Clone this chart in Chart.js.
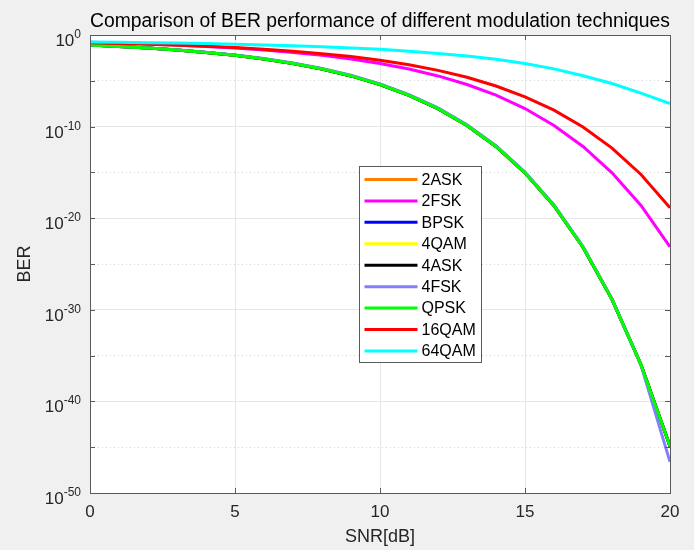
<!DOCTYPE html>
<html><head><meta charset="utf-8">
<script src="https://cdn.jsdelivr.net/npm/chart.js@4.4.0/dist/chart.umd.min.js"></script>
<style>html,body{margin:0;padding:0;background:#f0f0f0;}#wrap{width:694px;height:550px;}</style>
</head><body><div id="wrap"><canvas id="c" width="694" height="550"></canvas></div>
<script>
// SNR in dB
const snr = [0,1,2,3,4,5,6,7,8,9,10,11,12,13,14,15,16,17,18,19,20];
// BER values
const ber2ASK  = [7.9e-2,5.6e-2,3.75e-2,2.3e-2,1.25e-2,6.0e-3,2.4e-3,7.7e-4,1.9e-4,3.4e-5,3.9e-6,2.6e-7,9.0e-9,1.3e-10,6.8e-13,9.1e-16,2.3e-19,6.8e-24,1.4e-29,1.0e-36,1.3e-45];
const ber2FSK  = [0.159,0.131,0.104,0.0789,0.0569,0.0377,0.0228,0.0122,6.05e-3,2.42e-3,7.8e-4,1.9e-4,3.4e-5,3.9e-6,2.7e-7,9.3e-9,1.3e-10,6.8e-13,9.1e-16,2.5e-19,7.6e-24];
const berBPSK  = [7.9e-2,5.6e-2,3.75e-2,2.3e-2,1.25e-2,6.0e-3,2.4e-3,7.7e-4,1.9e-4,3.4e-5,3.9e-6,2.6e-7,9.0e-9,1.3e-10,6.8e-13,9.1e-16,2.3e-19,6.8e-24,1.4e-29,1.0e-36,1.3e-45];
const ber4QAM  = [7.9e-2,5.6e-2,3.75e-2,2.3e-2,1.25e-2,6.0e-3,2.4e-3,7.7e-4,1.9e-4,3.4e-5,3.9e-6,2.6e-7,9.0e-9,1.3e-10,6.8e-13,9.1e-16,2.3e-19,6.8e-24,1.4e-29,1.0e-36,1.3e-45];
const ber4ASK  = [7.9e-2,5.6e-2,3.75e-2,2.3e-2,1.25e-2,6.0e-3,2.4e-3,7.7e-4,1.9e-4,3.4e-5,3.9e-6,2.6e-7,9.0e-9,1.3e-10,6.8e-13,9.1e-16,2.3e-19,6.8e-24,1.4e-29,1.0e-36,1.3e-45];
const ber4FSK  = [7.9e-2,5.7e-2,3.85e-2,2.4e-2,1.35e-2,6.6e-3,2.7e-3,8.7e-4,2.2e-4,4.0e-5,4.6e-6,3.1e-7,1.1e-8,1.6e-10,8.3e-13,1.1e-15,2.8e-19,8.0e-24,1.5e-29,9.0e-37,2.5e-47];
const berQPSK  = [7.9e-2,5.6e-2,3.75e-2,2.3e-2,1.25e-2,6.0e-3,2.4e-3,7.7e-4,1.9e-4,3.4e-5,3.9e-6,2.6e-7,9.0e-9,1.3e-10,6.8e-13,9.1e-16,2.3e-19,6.8e-24,1.4e-29,1.0e-36,1.3e-45];
const ber16QAM = [0.139,0.118,0.0974,0.0774,0.0585,0.0419,0.0279,0.0167,8.9e-3,4.4e-3,1.75e-3,5.6e-4,1.37e-4,2.4e-5,2.7e-6,1.8e-7,6.3e-9,9.0e-11,4.5e-13,5.9e-16,1.4e-19];
const ber64QAM = [0.173,0.160,0.146,0.131,0.116,0.0998,0.0834,0.0675,0.0525,0.0386,0.0273,0.0167,9.7e-3,5.0e-3,2.2e-3,7.6e-4,2.0e-4,3.5e-5,5.0e-6,4.5e-7,3.2e-8];

const seriesNames = ['2ASK','2FSK','BPSK','4QAM','4ASK','4FSK','QPSK','16QAM','64QAM'];
const seriesValues = [ber2ASK,ber2FSK,berBPSK,ber4QAM,ber4ASK,ber4FSK,berQPSK,ber16QAM,ber64QAM];
const seriesColors = ['#ff8000','#ff00ff','#0000ff','#ffff00','#000000','#8080ff','#00ff00','#ff0000','#00ffff'];

const xTicks = [0,5,10,15,20];
const yMajorExp = [0,-10,-20,-30,-40,-50];
const yMinorExp = [-5,-15,-25,-35,-45];

const FONT = "'Liberation Sans', Arial, Helvetica, sans-serif";
Chart.defaults.font.family = FONT;

const datasets = seriesNames.map((n,i)=>({
  label:n,
  data: snr.map((s,k)=>({x:s,y:seriesValues[i][k]})),
  borderColor: seriesColors[i],
  backgroundColor: seriesColors[i],
  borderWidth: 3,
  pointRadius: 0,
  tension: 0,
  fill:false,
  order: seriesNames.length - i
}));

const bgPlugin = {
  id:'bg',
  beforeDraw(chart){
    const {ctx, chartArea:a} = chart;
    ctx.save(); ctx.fillStyle='#ffffff';
    ctx.fillRect(a.left,a.top,a.right-a.left,a.bottom-a.top);
    ctx.restore();
  }
};
// y tick labels "10" with a raised exponent, placed by the y scale
const yLabelPlugin = {
  id:'yLabels',
  afterDraw(chart){
    const {ctx, chartArea:a, scales} = chart;
    const right = a.left - 9;
    ctx.save();
    ctx.fillStyle='#262626';
    ctx.textBaseline='alphabetic';
    scales.y.ticks.forEach(t=>{
      const e = String(Math.round(Math.log10(t.value)));
      const py = scales.y.getPixelForValue(t.value);
      ctx.font = '12px ' + FONT;
      const ew = ctx.measureText(e).width;
      ctx.textAlign='left';
      ctx.fillText(e, right - ew, py + 3);
      ctx.font = '17px ' + FONT;
      ctx.textAlign='right';
      ctx.fillText('10', right - ew, py + 11);
    });
    ctx.restore();
  }
};
const framePlugin = {
  id:'frame',
  afterDatasetsDraw(chart){
    const {ctx, chartArea:a, scales} = chart;
    ctx.save();
    ctx.strokeStyle='#5a5a5a'; ctx.lineWidth=1;
    ctx.strokeRect(Math.round(a.left)+0.5, Math.round(a.top)+0.5, Math.round(a.right-a.left), Math.round(a.bottom-a.top));
    const L=5;
    ctx.beginPath();
    xTicks.forEach(v=>{
      const px = Math.round(scales.x.getPixelForValue(v))+0.5;
      ctx.moveTo(px,a.bottom); ctx.lineTo(px,a.bottom-L);
      ctx.moveTo(px,a.top); ctx.lineTo(px,a.top+L);
    });
    yMajorExp.concat(yMinorExp).forEach(e=>{
      const py = Math.round(scales.y.getPixelForValue(Math.pow(10,e)))+0.5;
      ctx.moveTo(a.left,py); ctx.lineTo(a.left+L,py);
      ctx.moveTo(a.right,py); ctx.lineTo(a.right-L,py);
    });
    ctx.stroke();
    ctx.restore();
  }
};
const legendPlugin = {
  id:'boxLegend',
  afterDraw(chart){
    const {ctx, chartArea:a} = chart;
    const bx = Math.round(a.left + 269)+0.5, by = Math.round(a.top + 131)+0.5;
    const bw = 122, bh = 196;
    ctx.save();
    ctx.fillStyle='#ffffff'; ctx.fillRect(bx,by,bw,bh);
    ctx.strokeStyle='#5a5a5a'; ctx.lineWidth=1; ctx.strokeRect(bx,by,bw,bh);
    ctx.font = '16px ' + FONT; ctx.textBaseline='middle'; ctx.fillStyle='#000';
    chart.data.datasets.forEach((d,i)=>{
      const y = by + 13 + i*21.43;
      ctx.strokeStyle=d.borderColor; ctx.lineWidth=3;
      ctx.beginPath(); ctx.moveTo(bx+5,y); ctx.lineTo(bx+58,y); ctx.stroke();
      ctx.fillText(d.label, bx+62, y+1);
    });
    ctx.restore();
  }
};

new Chart(document.getElementById('c'), {
  type:'line',
  data:{datasets},
  options:{
    responsive:false, animation:false, devicePixelRatio:1,
    layout:{padding:0},
    plugins:{
      legend:{display:false},
      tooltip:{enabled:false},
      title:{display:true, fullSize:false, text:'Comparison of BER performance of different modulation techniques',
        color:'#000', font:{size:19.5, weight:'normal', family:FONT}, padding:{top:10,bottom:1.6}}
    },
    scales:{
      x:{type:'linear', min:0, max:20,
        afterBuildTicks(s){ s.ticks = xTicks.map(v=>({value:v})); },
        afterFit(s){ s.height = 57; },
        ticks:{color:'#262626', font:{size:17}, padding:9},
        grid:{color:'#e6e6e6', drawTicks:false},
        border:{display:false},
        title:{display:true, text:'SNR[dB]', color:'#262626', font:{size:18}, padding:{top:0,bottom:2}}
      },
      y:{type:'logarithmic', min:1e-50, max:1, position:'left',
        afterBuildTicks(s){ s.ticks = yMajorExp.map(e=>({value:Math.pow(10,e)})); },
        afterFit(s){ s.width = 90; },
        ticks:{display:false},
        grid:{color:'#e6e6e6', drawTicks:false},
        border:{display:false},
        title:{display:true, text:'BER', color:'#262626', font:{size:18}, padding:{top:14,bottom:0}}
      },
      y2:{type:'logarithmic', min:1e-50, max:1, position:'right',
        afterBuildTicks(s){ s.ticks = yMinorExp.map(e=>({value:Math.pow(10,e)})); },
        afterFit(s){ s.width = 24; },
        ticks:{display:false},
        grid:{color:'#d4d4d4', drawTicks:false},
        border:{display:false, dash:[1,3]}
      }
    }
  },
  plugins:[bgPlugin, framePlugin, legendPlugin, yLabelPlugin]
});
</script></body></html>
